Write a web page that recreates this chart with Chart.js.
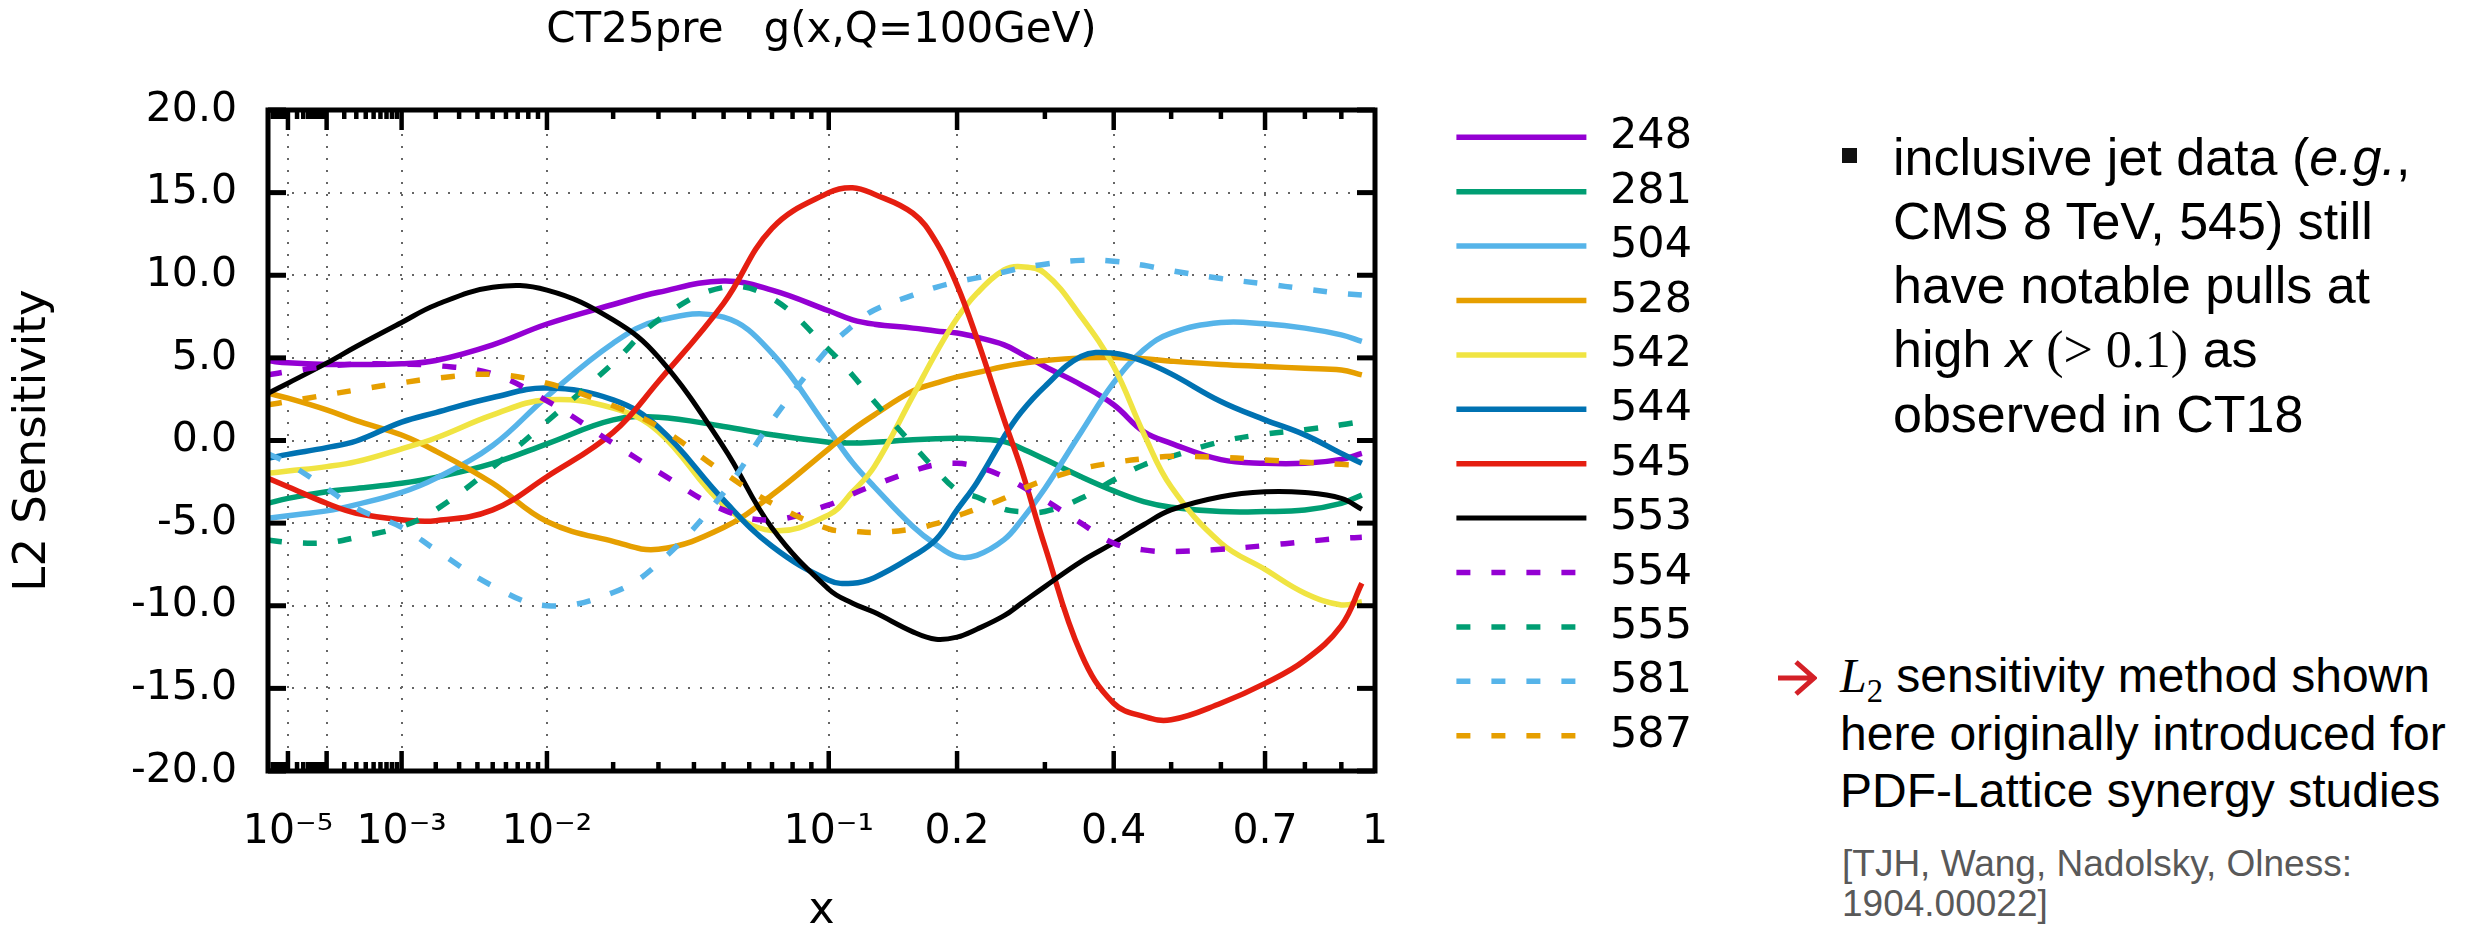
<!DOCTYPE html>
<html>
<head>
<meta charset="utf-8">
<script src="https://cdn.jsdelivr.net/npm/chart.js@4.4.1/dist/chart.umd.min.js"></script>
<style>
  body { margin: 0; background: #fff; width: 2474px; height: 927px; overflow: hidden; position: relative;
         font-family: 'Liberation Sans', Arial, sans-serif; }
  #plot { position: absolute; left: 0; top: 0; }
  .note { position: absolute; white-space: nowrap; color: #000; }
  #note1 { left: 1893px; top: 125px; font-size: 52px; line-height: 64px; }
  #note2 { left: 1840px; top: 647px; font-size: 48px; line-height: 57.5px; }
  #ref { left: 1842px; top: 844px; font-size: 37px; line-height: 40px; color: #595959; }
  .bullet { position: absolute; left: 1842px; top: 148px; width: 15px; height: 15px; background: #111; }
  .arrow { position: absolute; left: 1777px; top: 660px; }
  .m { font-family: 'Liberation Serif', serif; font-style: italic; }
  .m2 { font-family: 'Liberation Serif', serif; }
  .sub { font-family: 'Liberation Serif', serif; font-size: 0.68em; position: relative; top: 0.3em; line-height: 0; }
</style>
</head>
<body>
<canvas id="plot" width="1740" height="927"></canvas>

<div class="bullet"></div>
<div class="note" id="note1">inclusive jet data (<i>e.g.</i>,<br>CMS 8 TeV, 545) still<br>have notable pulls at<br>high <i>x</i> <span class="m2">(&gt; 0.1)</span> as<br>observed in CT18</div>

<svg class="arrow" width="40" height="36" viewBox="0 0 40 36">
  <path d="M1 18 H36 M19 2 L37 18 L19 34" fill="none" stroke="#d42027" stroke-width="5"/>
</svg>
<div class="note" id="note2"><span class="m">L</span><span class="sub">2</span> sensitivity method shown<br>here originally introduced for<br>PDF-Lattice synergy studies</div>
<div class="note" id="ref">[TJH, Wang, Nadolsky, Olness:<br>1904.00022]</div>

<script>
const xs = [1e-6, 1e-5, 1e-4, 3e-4, 1e-3, 2e-3, 5e-3, 1e-2, 2e-2, 3e-2, 5e-2, 7e-2,
            0.1, 0.115, 0.13, 0.16, 0.18, 0.2, 0.22, 0.25, 0.27, 0.3, 0.35, 0.4, 0.45, 0.5, 0.6, 0.7, 0.8, 0.9, 0.96];

const s248 = [4.82, 4.7, 4.6, 4.6, 4.64, 4.84, 5.79, 7.05, 8.23, 8.97, 9.65, 9.1,
              7.85, 7.3, 7.04, 6.8, 6.63, 6.5, 6.25, 5.79, 5.26, 4.48, 3.37, 2.16, 0.54, -0.17, -1.16, -1.38, -1.38, -1.14, -0.78];
const s281 = [-3.8, -3.5, -3.1, -2.9, -2.59, -2.23, -1.38, -0.2, 1.25, 1.41, 0.85, 0.35,
              -0.1, -0.15, -0.1, 0.05, 0.11, 0.13, 0.09, -0.07, -0.47, -1.14, -2.19, -3.05, -3.7, -4.04, -4.3, -4.3, -4.2, -3.8, -3.3];
const s504 = [-4.7, -4.55, -4.26, -3.88, -3.14, -2.29, -0.3, 2.66, 5.89, 7.26, 7.46, 5.28,
              0.65, -1.34, -2.8, -5.2, -6.3, -7.03, -6.95, -6.0, -4.85, -2.9, 0.5, 3.5, 5.48, 6.5, 7.14, 7.06, 6.8, 6.39, 6.0];
const s528 = [2.86, 2.56, 1.85, 1.2, 0.33, -0.64, -2.59, -4.9, -6.1, -6.58, -5.27, -3.3,
              -0.5, 0.65, 1.55, 3.0, 3.47, 3.85, 4.11, 4.48, 4.66, 4.84, 5.0, 5.02, 4.94, 4.8, 4.6, 4.48, 4.37, 4.27, 3.97];
const s542 = [-1.99, -1.85, -1.58, -1.28, -0.5, 0.15, 1.55, 2.46, 1.96, 0.54, -3.9, -5.45,
              -4.5, -3.1, -1.58, 2.7, 5.28, 7.4, 8.9, 10.32, 10.52, 10.12, 7.5, 4.48, 0.44, -2.8, -6.2, -7.8, -9.24, -9.95, -9.75];
const s544 = [-1.08, -0.84, -0.43, -0.03, 1.11, 1.69, 2.6, 3.17, 2.46, 0.8, -3.6, -6.4,
              -8.45, -8.64, -8.3, -7.0, -6.0, -4.2, -2.55, 0.23, 1.71, 3.27, 5.08, 5.28, 4.78, 4.03, 2.36, 1.25, 0.34, -0.78, -1.38];
const s545 = [-2.29, -2.8, -3.8, -4.4, -4.79, -4.85, -4.2, -2.19, 0.49, 3.57, 8.3, 12.84,
              15.0, 15.3, 14.9, 13.75, 12.04, 9.4, 6.19, 1.25, -1.68, -6.4, -12.9, -15.9, -16.7, -16.9, -15.9, -14.7, -13.3, -11.2, -8.64];
const s553 = [2.86, 3.47, 4.68, 5.69, 7.14, 8.2, 9.27, 9.1, 7.3, 5.04, -0.4, -5.3,
              -9.0, -9.85, -10.4, -11.58, -12.03, -11.9, -11.42, -10.6, -9.87, -8.84, -7.33, -6.2, -5.1, -4.2, -3.4, -3.1, -3.15, -3.5, -4.16];
const s554 = [3.97, 4.17, 4.48, 4.62, 4.62, 4.54, 4.03, 2.4, -0.17, -1.9, -4.2, -4.8,
              -3.9, -3.24, -2.7, -1.85, -1.46, -1.38, -1.58, -2.19, -2.75, -3.6, -5.0, -6.22, -6.62, -6.72, -6.58, -6.36, -6.12, -5.92, -5.86];
const s555 = [-6.02, -6.16, -6.18, -5.86, -5.21, -4.2, -1.62, 1.15, 4.68, 7.3, 9.27, 8.6,
              5.5, 3.95, 2.36, -0.27, -1.78, -3.0, -3.42, -4.16, -4.3, -4.3, -3.5, -2.39, -1.48, -0.98, -0.07, 0.39, 0.65, 0.95, 1.15];
const s581 = [-0.8, -1.38, -2.89, -4.1, -5.25, -6.62, -8.8, -10.0, -9.2, -7.43, -3.16, 1.2,
              5.6, 6.94, 7.9, 8.8, 9.27, 9.6, 9.84, 10.2, 10.44, 10.67, 10.9, 10.85, 10.6, 10.28, 9.8, 9.48, 9.17, 8.9, 8.8];
const s587 = [2.16, 2.36, 2.76, 3.06, 3.49, 3.77, 4.0, 3.47, 2.1, 0.83, -1.94, -3.8,
              -5.35, -5.49, -5.57, -5.35, -5.03, -4.57, -4.14, -3.5, -2.97, -2.39, -1.72, -1.34, -1.1, -0.96, -1.02, -1.18, -1.32, -1.44, -1.5];

const seriesNames = ['248', '281', '504', '528', '542', '544', '545', '553', '554', '555', '581', '587'];
const seriesValues = [s248, s281, s504, s528, s542, s544, s545, s553, s554, s555, s581, s587];
const seriesColors = ['#9400d3', '#009e73', '#56b4e9', '#e69f00', '#f0e442', '#0072b2',
                      '#e51e10', '#000000', '#9400d3', '#009e73', '#56b4e9', '#e69f00'];
const seriesDashed = [false, false, false, false, false, false, false, false, true, true, true, true];

// axis ticks
const xTickValues = [1e-5, 1e-4, 1e-3, 1e-2, 0.1, 0.2, 0.4, 0.7, 1];
const xTickLabels = ['10⁻⁵', '', '10⁻³', '10⁻²', '10⁻¹', '0.2', '0.4', '0.7', '1'];
const xMajorMarks = [1e-5, 1e-4, 1e-3, 1e-2, 0.1, 0.2, 0.4, 0.7];
const xMinorMarks = [];
for (let e = -6; e <= -2; e++) {
  for (let m = 2; m <= 9; m++) xMinorMarks.push(m * Math.pow(10, e));
}
xMinorMarks.push(0.3, 0.5, 0.6, 0.8, 0.9);

// the x axis is x^0.2875 between 1e-6 and 1
const POW = 0.2875;
class PowerScale extends Chart.Scale {
  determineDataLimits() {
    this.min = this.options.min;
    this.max = this.options.max;
  }
  buildTicks() {
    return xTickValues.map(v => ({ value: v }));
  }
  getLabelForValue(v) {
    return String(v);
  }
  configure() {
    super.configure();
    this._lo = Math.pow(this.min, POW);
    this._hi = Math.pow(this.max, POW);
  }
  getPixelForValue(v) {
    return this.getPixelForDecimal((Math.pow(v, POW) - this._lo) / (this._hi - this._lo));
  }
  getValueForPixel(p) {
    const t = this._lo + this.getDecimalForPixel(p) * (this._hi - this._lo);
    return Math.pow(t, 1 / POW);
  }
}
PowerScale.id = 'power';
PowerScale.defaults = {};
Chart.register(PowerScale);

// gnuplot style border with ticks pointing inwards
const frame = {
  id: 'frame',
  afterDatasetsDraw(chart) {
    const { ctx, chartArea: a, scales } = chart;
    const x = scales.x, y = scales.y;
    const mark = (x1, y1, x2, y2) => { ctx.beginPath(); ctx.moveTo(x1, y1); ctx.lineTo(x2, y2); ctx.stroke(); };
    ctx.save();
    ctx.strokeStyle = '#000';
    ctx.setLineDash([]);
    ctx.lineWidth = 4.5;
    xMajorMarks.forEach(v => {
      const p = x.getPixelForValue(v);
      mark(p, a.bottom, p, a.bottom - 20);
      mark(p, a.top, p, a.top + 20);
    });
    xMinorMarks.forEach(v => {
      const p = x.getPixelForValue(v);
      mark(p, a.bottom, p, a.bottom - 9);
      mark(p, a.top, p, a.top + 9);
    });
    ctx.lineWidth = 5;
    y.ticks.forEach(t => {
      const p = y.getPixelForValue(t.value);
      mark(a.left, p, a.left + 18, p);
      mark(a.right, p, a.right - 18, p);
    });
    ctx.strokeRect(a.left, a.top, a.right - a.left, a.bottom - a.top);
    ctx.restore();
  }
};

Chart.defaults.font.family = 'DejaVu Sans';
Chart.defaults.color = '#000';

const datasets = seriesNames.map((name, i) => ({
  label: name,
  data: xs.map((x, k) => ({ x: x, y: seriesValues[i][k] })),
  borderColor: seriesColors[i],
  backgroundColor: seriesColors[i],
  borderWidth: i === 7 ? 5 : 5.5,
  borderDash: seriesDashed[i] ? [14, 21] : [],
  pointRadius: 0,
  tension: 0.4,
  fill: false,
  order: -i
}));

const ctx = document.getElementById('plot').getContext('2d');
const chart = new Chart(ctx, {
  type: 'line',
  data: { datasets: datasets },
  plugins: [frame],
  options: {
    responsive: false,
    animation: false,
    events: [],
    layout: { padding: { left: 0, right: 48, top: 0, bottom: 0 }, autoPadding: false },
    scales: {
      x: {
        type: 'power',
        position: 'bottom',
        min: 1e-6,
        max: 1,
        grid: { color: '#666', lineWidth: 2, drawTicks: false },
        border: { display: false, dash: [2, 10] },
        ticks: {
          autoSkip: false,
          maxRotation: 0,
          minRotation: 0,
          padding: 37,
          font: { size: 41 },
          callback: (v) => xTickLabels[xTickValues.indexOf(v)]
        },
        title: { display: true, text: 'x', font: { size: 44, lineHeight: 0.7 }, padding: 0 },
        afterFit: (s) => { s.height = 156; }
      },
      y: {
        type: 'linear',
        position: 'left',
        min: -20,
        max: 20,
        grid: { color: '#666', lineWidth: 2, drawTicks: false },
        border: { display: false, dash: [2, 10] },
        ticks: {
          stepSize: 5,
          padding: 31,
          font: { size: 41 },
          callback: (v) => v.toFixed(1)
        },
        title: { display: true, text: 'L2 Sensitivity', font: { size: 45 }, padding: { top: 6.6, bottom: 0 } },
        afterFit: (s) => { s.width = 268; }
      },
      gap: {
        type: 'linear',
        position: 'right',
        min: 0,
        max: 1,
        grid: { display: false, drawTicks: false },
        border: { display: false },
        ticks: { display: false },
        afterFit: (s) => { s.width = 70; }
      }
    },
    plugins: {
      tooltip: { enabled: false },
      title: {
        display: true,
        text: 'CT25pre   g(x,Q=100GeV)',
        fullSize: false,
        font: { size: 42, weight: 'normal' },
        padding: { top: 5.8, bottom: 53.8 }
      },
      legend: {
        position: 'right',
        align: 'start',
        maxWidth: 247,
        title: { display: true, text: '', font: { size: 1, lineHeight: 1.2 }, padding: { top: 103.2, bottom: 0 } },
        labels: {
          usePointStyle: true,
          pointStyle: 'line',
          pointStyleWidth: 130,
          boxWidth: 130,
          padding: 11.4,
          textAlign: 'right',
          font: { size: 43 },
          color: '#000',
          generateLabels: (c) => {
            const items = Chart.defaults.plugins.legend.labels.generateLabels(c);
            items.forEach(it => {
              const ds = c.data.datasets[it.datasetIndex];
              it.lineDash = ds.borderDash;
              it.lineWidth = ds.borderWidth;
              it.strokeStyle = ds.borderColor;
            });
            return items.sort((p, q) => p.datasetIndex - q.datasetIndex);
          }
        }
      }
    }
  }
});
</script>
</body>
</html>
